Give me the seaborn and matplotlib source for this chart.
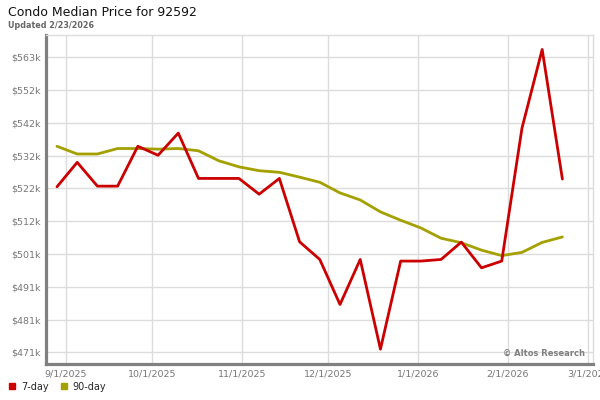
import matplotlib
matplotlib.use("Agg")
import matplotlib.pyplot as plt
from matplotlib.lines import Line2D
import pandas as pd
import seaborn as sns

# weekly points ($k)
week_dates = ["2025-08-29", "2025-09-05", "2025-09-12", "2025-09-19", "2025-09-26",
              "2025-10-03", "2025-10-10", "2025-10-17", "2025-10-24", "2025-10-31",
              "2025-11-07", "2025-11-14", "2025-11-21", "2025-11-28", "2025-12-05",
              "2025-12-12", "2025-12-19", "2025-12-26", "2026-01-02", "2026-01-09",
              "2026-01-16", "2026-01-23", "2026-01-30", "2026-02-06", "2026-02-13",
              "2026-02-20"]
price_7day = [522.8, 530.4, 523.0, 523.0, 535.4, 532.6, 539.5, 525.4, 525.4, 525.4,
              520.5, 525.4, 505.7, 500.2, 486.2, 500.2, 472.3, 499.7, 499.7, 500.2,
              505.6, 497.6, 499.7, 541.0, 565.5, 525.2]
price_90day = [535.4, 533.0, 533.0, 534.7, 534.7, 534.5, 534.7, 534.0, 530.9, 529.0,
               527.8, 527.3, 525.8, 524.2, 520.9, 518.7, 515.0, 512.4, 510.0, 506.8,
               505.4, 503.1, 501.4, 502.4, 505.5, 507.2]

y_ticks = [471.3, 481.5, 491.7, 501.9, 512.1, 522.3, 532.5, 542.7, 552.9, 563.1]
y_labels = ["$471k", "$481k", "$491k", "$501k", "$512k", "$522k", "$532k",
            "$542k", "$552k", "$563k"]
x_ticks = ["2025-09-01", "2025-10-01", "2025-11-01", "2025-12-01", "2026-01-01",
           "2026-02-01", "2026-03-01"]
x_labels = ["9/1/2025", "10/1/2025", "11/1/2025", "12/1/2025", "1/1/2026",
            "2/1/2026", "3/1/2026"]

colors = {"7-day": "#cc0000", "90-day": "#a3a000"}

sns.set_style("white")
plt.rcParams["font.family"] = ["DejaVu Sans"]

n = len(week_dates)
df = pd.DataFrame({
    "date": pd.to_datetime(week_dates * 2),
    "price": price_7day + price_90day,
    "series": ["7-day"] * n + ["90-day"] * n,
})

fig = plt.figure(figsize=(6, 4), dpi=100)
ax = fig.add_axes([46 / 600, 1 - 364.3 / 400, 547 / 600, 329.3 / 400])

sns.lineplot(data=df, x="date", y="price", hue="series",
             hue_order=["90-day", "7-day"], palette=colors,
             linewidth=2, ax=ax, legend=False)

ax.set_xlim(pd.Timestamp("2025-09-01") - pd.Timedelta(days=6.8),
            pd.Timestamp("2026-03-01") + pd.Timedelta(days=1.6))
ax.set_ylim(467.6, 570.0)
ax.set_xticks(pd.to_datetime(x_ticks))
ax.set_xticklabels(x_labels)
ax.set_yticks(y_ticks)
ax.set_yticklabels(y_labels)
ax.set_xlabel("")
ax.set_ylabel("")

ax.grid(True, color="#dcdcdc", linewidth=1)
ax.set_axisbelow(True)
ax.tick_params(length=0, labelsize=6.8, colors="#777777", pad=4)

for side in ["left", "bottom"]:
    ax.spines[side].set_color("#808080")
    ax.spines[side].set_linewidth(2.3)
for side in ["top", "right"]:
    ax.spines[side].set_color("#dcdcdc")
    ax.spines[side].set_linewidth(1)

ax.text(0.985, 0.02, "© Altos Research", transform=ax.transAxes,
        ha="right", va="bottom", fontsize=6, color="#808080", weight="semibold")

fig.text(8 / 600, 1 - 6 / 400, "Condo Median Price for 92592",
         fontsize=9, color="#111111", va="top")
fig.text(8 / 600, 1 - 21 / 400, "Updated 2/23/2026",
         fontsize=5.8, color="#666666", va="top", weight="semibold")

handles = [Line2D([], [], marker="s", linestyle="", markersize=5,
                  color=colors[k]) for k in ["7-day", "90-day"]]
fig.legend(handles, ["7-day", "90-day"], loc="lower left",
           bbox_to_anchor=(0.0, 0.0), ncol=2, frameon=False, fontsize=7,
           handlelength=0.8, handletextpad=0.5, columnspacing=1.2,
           borderaxespad=0.45)

fig.savefig("out.png", dpi=100)
